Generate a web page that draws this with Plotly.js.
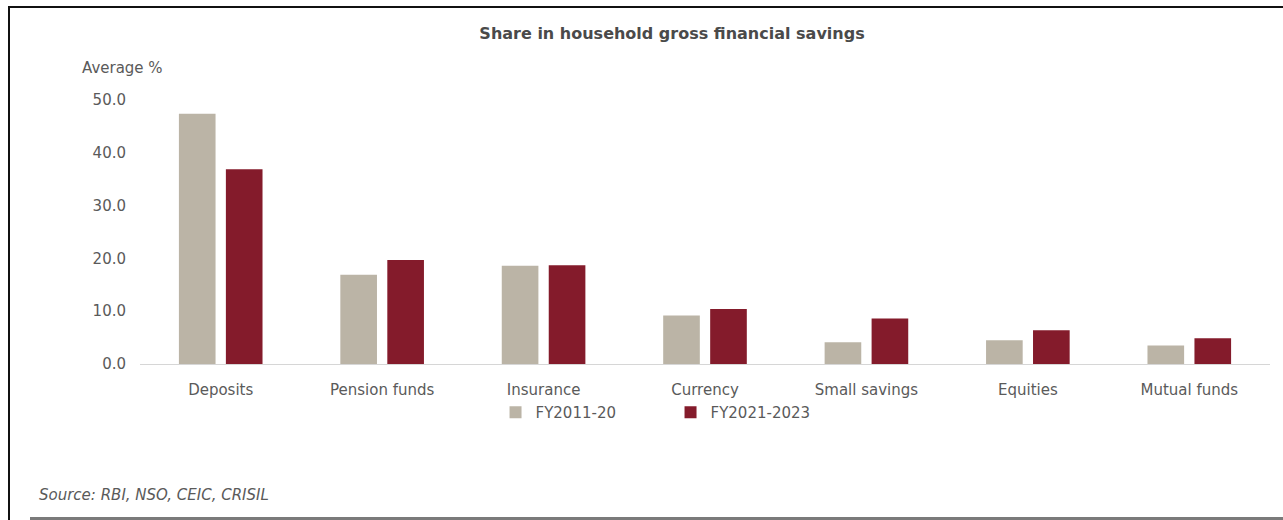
<!DOCTYPE html>
<html>
<head>
<meta charset="utf-8">
<script src="https://cdn.plot.ly/plotly-3.0.1.min.js"></script>
<style>
  html, body { margin: 0; padding: 0; background: #fff; }
  #wrap { position: relative; width: 1283px; height: 520px; overflow: hidden; }
  #chart { position: absolute; left: 0; top: 0; width: 1283px; height: 520px; }
  .frame-top { position: absolute; left: 8px; top: 6px; width: 1275px; height: 2px; background: #111; }
  .frame-left { position: absolute; left: 8px; top: 6px; width: 2px; height: 514px; background: #111; }
  .frame-bottom { position: absolute; left: 30px; top: 517px; width: 1253px; height: 3px; background: #7a7a7a; }
</style>
</head>
<body>
<div id="wrap">
  <div id="chart"></div>
  <div class="frame-top"></div>
  <div class="frame-left"></div>
  <div class="frame-bottom"></div>
</div>
<script>
const categories = ["Deposits", "Pension funds", "Insurance", "Currency", "Small savings", "Equities", "Mutual funds"];
const seriesNames = ["FY2011-20", "FY2021-2023"];
const fy2011_20 = [47.4, 16.9, 18.6, 9.2, 4.1, 4.5, 3.5];
const fy2021_2023 = [36.9, 19.7, 18.7, 10.4, 8.6, 6.4, 4.9];
const yTickVals = [0, 10, 20, 30, 40, 50];
const yTickText = ["0.0", "10.0", "20.0", "30.0", "40.0", "50.0"];

const FONT = "DejaVu Sans, Liberation Sans, sans-serif";
const TXT = "#5a5a5a";

const traces = [
  { type: "bar", name: seriesNames[0], x: categories, y: fy2011_20,
    marker: { color: "#bbb4a6" }, hoverinfo: "x+y+name" },
  { type: "bar", name: seriesNames[1], x: categories, y: fy2021_2023,
    marker: { color: "#841b2b" }, hoverinfo: "x+y+name" }
];

const layout = {
  width: 1283, height: 520,
  margin: { l: 140, r: 13, t: 100, b: 156 },
  paper_bgcolor: "rgba(0,0,0,0)",
  plot_bgcolor: "rgba(0,0,0,0)",
  barmode: "group",
  bargap: 0.418,
  bargroupgap: 0.22,
  font: { family: FONT, size: 15, color: TXT },
  title: {
    text: "<b>Share in household gross financial savings</b>",
    font: { family: FONT, size: 16, color: "#4a4a4a" },
    xref: "container", yref: "container",
    x: 0.5238, xanchor: "center",
    y: 1 - 33 / 520, yanchor: "middle"
  },
  xaxis: {
    type: "category",
    showgrid: false, showline: false, zeroline: false,
    ticks: "", ticklabelstandoff: 15,
    tickfont: { family: FONT, size: 15, color: TXT }
  },
  yaxis: {
    range: [0, 50],
    tickvals: yTickVals, ticktext: yTickText,
    showgrid: false, showline: false,
    zeroline: true, zerolinecolor: "#d6d6d6", zerolinewidth: 1,
    ticks: "", ticklabelstandoff: 13,
    tickfont: { family: FONT, size: 15, color: TXT }
  },
  showlegend: true,
  legend: {
    orientation: "h",
    x: 0.4695, xanchor: "center",
    y: -0.184, yanchor: "middle",
    font: { family: FONT, size: 15, color: TXT },
    entrywidth: 130, entrywidthmode: "pixels",
    traceorder: "normal",
    bgcolor: "rgba(0,0,0,0)"
  },
  annotations: [
    { text: "Average %", xref: "paper", yref: "paper",
      x: (80 - 140) / 1130, xanchor: "left",
      y: (363.5 - 68) / 263.5, yanchor: "middle",
      showarrow: false, font: { family: FONT, size: 15, color: TXT } },
    { text: "<i>Source: RBI, NSO, CEIC, CRISIL</i>", xref: "paper", yref: "paper",
      x: (37 - 140) / 1130, xanchor: "left",
      y: (363.5 - 494) / 263.5, yanchor: "middle",
      showarrow: false, font: { family: FONT, size: 15, color: TXT } }
  ]
};

Plotly.newPlot("chart", traces, layout, { displayModeBar: false, staticPlot: true });
</script>
</body>
</html>
